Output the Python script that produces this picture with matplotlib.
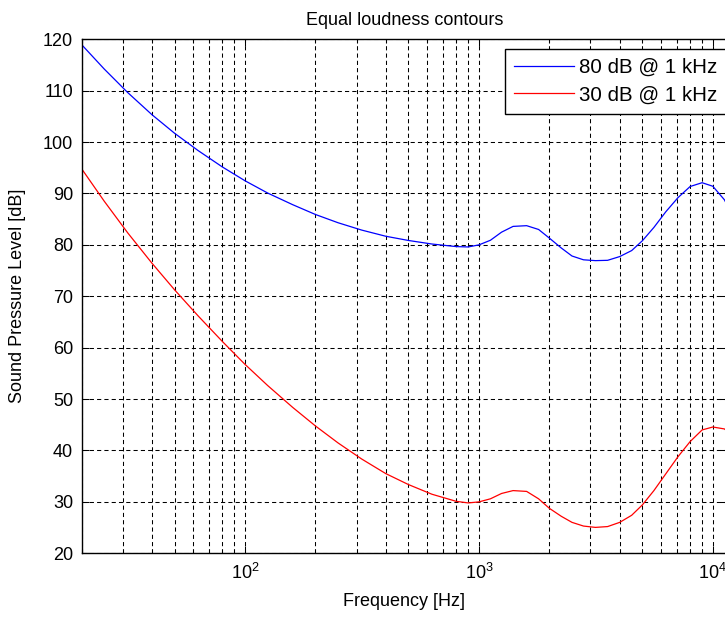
import matplotlib
matplotlib.use("Agg")
import matplotlib.pyplot as plt
from matplotlib.ticker import LogLocator

plt.rcParams['font.family'] = ['Liberation Sans', 'DejaVu Sans']
plt.rcParams['mathtext.default'] = 'regular'

# frequencies [Hz] (ISO 226 bands plus a few extra read-off points)
freqs = [20, 25, 31.5, 40, 50, 63, 80, 100, 125, 160, 200, 250, 315, 400, 500,
         630, 800, 900, 1000, 1120, 1250, 1400, 1600, 1800, 2000, 2250, 2500,
         2800, 3150, 3550, 4000, 4500, 5000, 5600, 6300, 7100, 8000, 9000,
         10000, 11200, 12500]

# 80 phon contour [dB SPL]
spl_80 = [118.99, 114.23, 109.65, 105.34, 101.72, 98.36, 95.17, 92.48, 90.09,
          87.82, 85.92, 84.31, 82.89, 81.68, 80.86, 80.17, 79.67, 79.6, 80.00,
          80.9, 82.48, 83.6, 83.74, 83.0, 81.33, 79.4, 77.84, 77.1, 76.94,
          77.0, 77.73, 78.9, 80.81, 83.4, 86.46, 89.2, 91.36, 92.1, 91.41,
          88.8, 84.67]

# 30 phon contour [dB SPL]
spl_30 = [94.85, 88.52, 82.36, 76.45, 71.26, 66.20, 61.22, 56.76, 52.64, 48.38,
          44.78, 41.47, 38.36, 35.50, 33.37, 31.49, 30.11, 29.8, 30.00, 30.6,
          31.64, 32.2, 32.04, 30.6, 28.76, 27.2, 26.02, 25.3, 25.04, 25.2,
          26.02, 27.4, 29.42, 32.2, 35.48, 38.8, 41.74, 44.0, 44.57, 44.2,
          42.55]

labels = ['80 dB @ 1 kHz', '30 dB @ 1 kHz']
yticks = [20, 30, 40, 50, 60, 70, 80, 90, 100, 110, 120]

W, H = 725, 617
fig = plt.figure(figsize=(W / 100, H / 100), dpi=100)
# axes runs slightly past the right edge of the picture (cropped look)
ax = fig.add_axes([81.5 / W, (H - 553.3) / H, (727 - 81.5) / W, (553.3 - 39.3) / H])

ax.semilogx(freqs, spl_80, color=(0, 0, 1), lw=0.9, label=labels[0])
ax.semilogx(freqs, spl_30, color=(1, 0, 0), lw=0.9, label=labels[1])

ax.set_xlim(20, 11500)
ax.set_ylim(20, 120)
ax.set_yticks(yticks)
ax.xaxis.set_major_locator(LogLocator(base=10, numticks=10))
ax.xaxis.set_minor_locator(LogLocator(base=10, subs=range(2, 10), numticks=20))

dash = (0, (4, 3))
ax.grid(True, which='major', color='k', lw=0.75, linestyle=dash)
ax.grid(True, which='minor', axis='x', color='k', lw=0.75, linestyle=dash)

ax.tick_params(which='both', direction='in', top=True, right=True, width=0.75,
               labelsize=13, colors='k')
ax.tick_params(which='major', length=5)
ax.tick_params(which='minor', length=3)
ax.tick_params(axis='y', pad=6)
ax.tick_params(axis='x', pad=7)
for sp in ax.spines.values():
    sp.set_linewidth(1.0)
    sp.set_color('k')

ax.set_title('Equal loudness contours', fontsize=13, pad=10)
ax.set_xlabel('Frequency [Hz]', fontsize=13)
ax.set_ylabel('Sound Pressure Level [dB]', fontsize=13)
ax.xaxis.set_label_coords(0.5, -0.078)
ax.yaxis.set_label_coords(-0.086, 0.5)

# legend box runs off the right edge like in the reference
leg = ax.legend(loc='upper left', bbox_to_anchor=(505 / W, 1 - 49 / H),
                bbox_transform=fig.transFigure, borderaxespad=0, fontsize=14.8,
                fancybox=False, framealpha=1, edgecolor='k', handlelength=2.9,
                handletextpad=0.25, labelspacing=0.4, borderpad=0.45)
leg.get_frame().set_linewidth(1.0)

fig.savefig('out.png', dpi=100)
